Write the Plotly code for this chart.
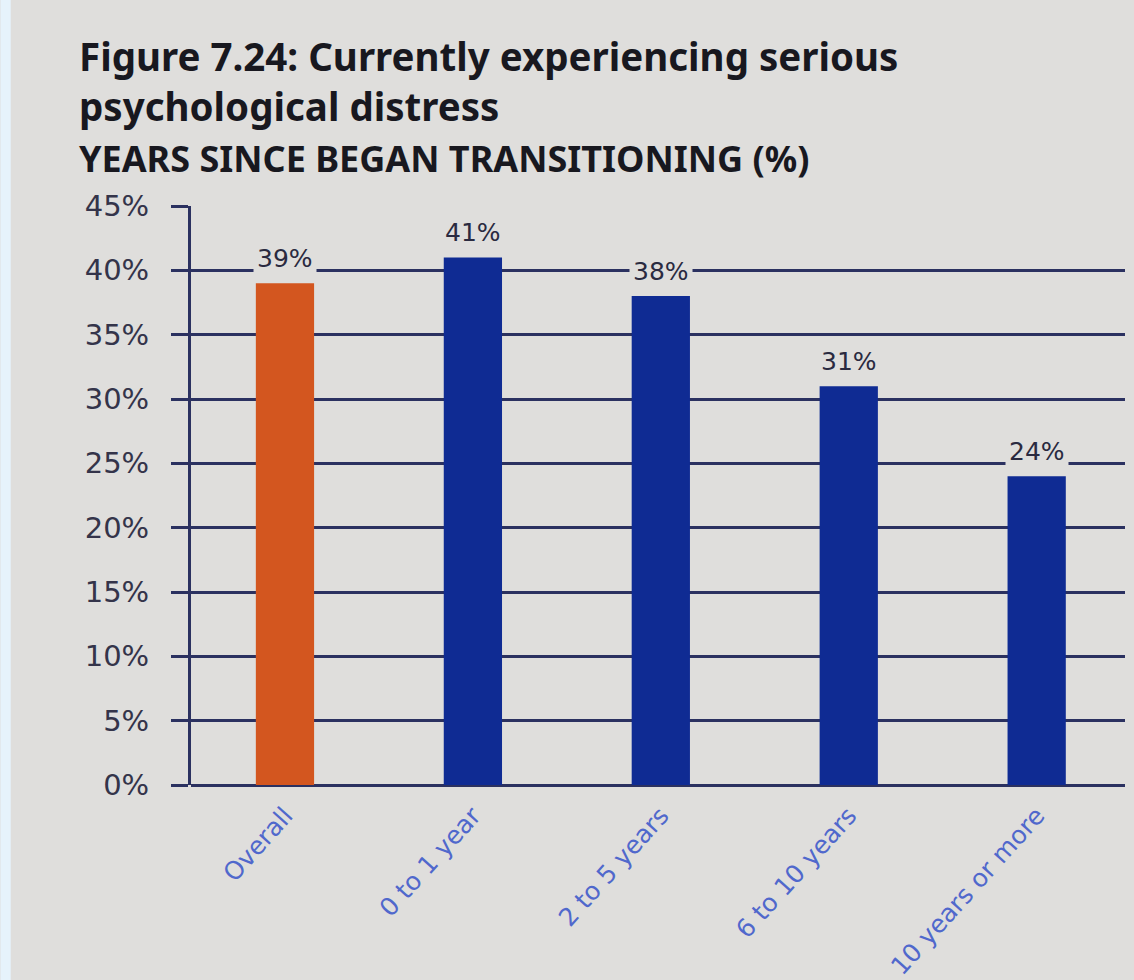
import plotly.graph_objects as go

categories = ["Overall", "0 to 1 year", "2 to 5 years", "6 to 10 years", "10 years or more"]
values = [39, 41, 38, 31, 24]
value_labels = ["39%", "41%", "38%", "31%", "24%"]
bar_colors = ["#d3561f", "#0f2b93", "#0f2b93", "#0f2b93", "#0f2b93"]
y_ticks = [0, 5, 10, 15, 20, 25, 30, 35, 40, 45]
y_tick_labels = ["0%", "5%", "10%", "15%", "20%", "25%", "30%", "35%", "40%", "45%"]

paper = "#dfdedc"
grid = "#2b3160"

fig = go.Figure()
fig.add_trace(go.Bar(
    x=categories, y=values, width=0.31,
    marker=dict(color=bar_colors, line=dict(width=0)),
    hoverinfo="skip",
))

for c, v, t in zip(categories, values, value_labels):
    fig.add_annotation(x=c, y=v, text=t, showarrow=False, yanchor="bottom", yshift=6,
                       font=dict(family="DejaVu Sans", size=25, color="#2a2a40"),
                       bgcolor=paper, borderpad=3)

fig.add_annotation(xref="paper", yref="paper", x=-0.122, y=1.0, yshift=178, xanchor="left", yanchor="top",
                   text="<b>Figure 7.24: Currently experiencing serious<br>psychological distress</b>",
                   showarrow=False, align="left",
                   font=dict(family="Noto Sans", size=38.5, color="#18181f"))
fig.add_annotation(xref="paper", yref="paper", x=-0.122, y=1.0, yshift=74, xanchor="left", yanchor="top",
                   text="<b>YEARS SINCE BEGAN TRANSITIONING (%)</b>",
                   showarrow=False, align="left",
                   font=dict(family="Noto Sans", size=36, color="#18181f"))

fig.update_layout(
    width=1134, height=980,
    margin=dict(l=191, r=9, t=206, b=195, autoexpand=False),
    paper_bgcolor=paper, plot_bgcolor=paper,
    showlegend=False, bargap=0.69,
    shapes=[
        dict(type="rect", xref="paper", yref="paper", x0=-0.204, x1=-0.193, y0=-0.35, y1=1.4,
             fillcolor="#e6f3fb", line=dict(width=0), layer="below"),
    ],
)
fig.update_xaxes(
    range=[-0.5, 4.47], showgrid=False, showline=False, zeroline=False,
    tickangle=-48, ticks="", ticklabelstandoff=10, automargin=False,
    tickfont=dict(family="DejaVu Sans", size=25, color="#5068cc"),
)
fig.update_yaxes(
    range=[0, 45], tickvals=y_ticks, ticktext=y_tick_labels,
    showgrid=True, gridcolor=grid, gridwidth=3,
    zeroline=True, zerolinecolor=grid, zerolinewidth=3,
    showline=True, linecolor=grid, linewidth=3, automargin=False,
    ticks="outside", ticklen=17, tickwidth=3, tickcolor=grid,
    ticklabelstandoff=16,
    tickfont=dict(family="DejaVu Sans", size=29, color="#34344a"),
)

fig.write_html("out.html")
